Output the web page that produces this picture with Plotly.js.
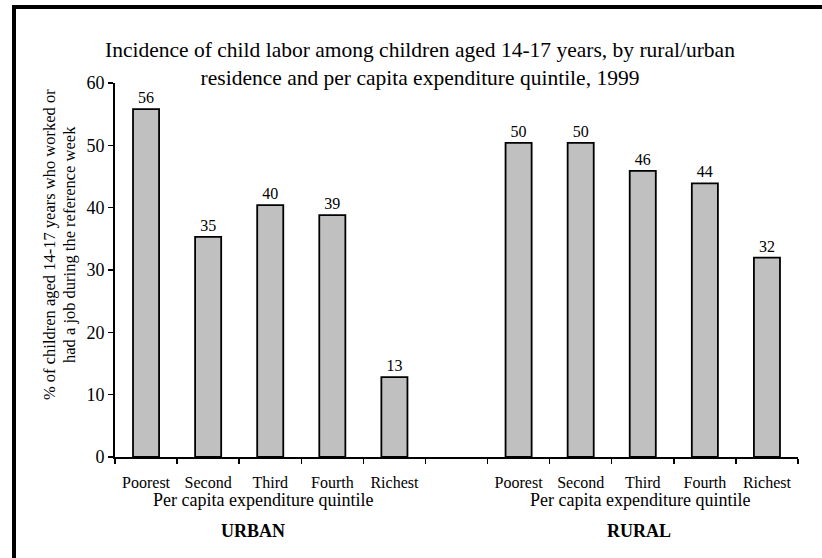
<!DOCTYPE html>
<html>
<head>
<meta charset="utf-8">
<script src="https://cdn.plot.ly/plotly-3.0.1.min.js"></script>
<style>
  html, body { margin: 0; padding: 0; background: #fff; }
  #frame { position: absolute; left: 12px; top: 5px; width: 810px; height: 553px;
           border-top: 4px solid #000; border-left: 4px solid #000; box-sizing: border-box; }
  #chart { position: absolute; left: 0; top: 0; width: 822px; height: 558px; }
</style>
</head>
<body>
<div id="frame"></div>
<div id="chart"></div>
<script>
// ---- data ----
const quintiles = ["Poorest", "Second", "Third", "Fourth", "Richest"];
const urbanValues = [55.8, 35.3, 40.4, 38.8, 12.8];
const ruralValues = [50.4, 50.4, 45.9, 43.9, 32.0];
const groupNames = ["URBAN", "RURAL"];
const groupAxisLabel = "Per capita expenditure quintile";
const titleText = "Incidence of child labor among children aged 14-17 years, by rural/urban<br>residence and per capita expenditure quintile, 1999";
const yTitleLines = ["% of children aged 14-17 years who worked or", "had a job during the reference week"];
const yTicks = [0, 10, 20, 30, 40, 50, 60];

// positions: urban in slots 0-4, empty slot 5, rural in slots 6-10
const urbanX = quintiles.map((q, i) => i);
const ruralX = quintiles.map((q, i) => i + quintiles.length + 1);
const nSlots = quintiles.length * 2 + 1;
const boundaries = Array.from({length: nSlots + 1}, (_, i) => i - 0.5);

const font = "'Liberation Serif', 'Times New Roman', serif";

const barStyle = {
  type: "bar",
  width: 0.42,
  marker: { color: "#c0c0c0", line: { color: "#000", width: 1.8 } },
  texttemplate: "%{y:.0f}",
  textposition: "outside",
  cliponaxis: false,
  textfont: { family: font, size: 16, color: "#000" },
  hoverinfo: "skip",
  showlegend: false
};

const traces = [
  Object.assign({}, barStyle, { x: urbanX, y: urbanValues, name: groupNames[0] }),
  Object.assign({}, barStyle, { x: ruralX, y: ruralValues, name: groupNames[1] })
];

const layout = {
  width: 822, height: 558,
  paper_bgcolor: "rgba(0,0,0,0)",
  plot_bgcolor: "rgba(0,0,0,0)",
  margin: { l: 115, r: 24, t: 83, b: 101 },
  font: { family: font, color: "#000" },
  title: {
    text: titleText,
    font: { family: font, size: 21.5, color: "#000" },
    x: 420 / 822, xref: "container", xanchor: "center",
    y: 1 - 57 / 558, yref: "container", yanchor: "top"
  },
  xaxis: {
    range: [-0.5, nSlots - 0.5],
    tickmode: "array", tickvals: urbanX.concat(ruralX), ticktext: quintiles.concat(quintiles),
    ticks: "", ticklabelstandoff: 10,
    tickfont: { family: font, size: 16, color: "#000" },
    minor: { tickmode: "array", tickvals: boundaries, ticks: "outside", ticklen: 5, tickwidth: 1.5, tickcolor: "#000", showgrid: false },
    showline: true, linecolor: "#000", linewidth: 2,
    showgrid: false, zeroline: false, fixedrange: true
  },
  yaxis: {
    range: [0, 60],
    tickmode: "array", tickvals: yTicks,
    ticks: "outside", ticklen: 5, tickwidth: 1.5, tickcolor: "#000",
    tickfont: { family: font, size: 18, color: "#000" },
    showline: true, linecolor: "#000", linewidth: 2,
    showgrid: false, zeroline: false, fixedrange: true
  },
  annotations: [
    { text: yTitleLines[0], xref: "paper", yref: "paper", x: -(115 - 50) / 683, y: (457 - 245) / 374,
      xanchor: "center", yanchor: "middle", textangle: -90, showarrow: false,
      font: { family: font, size: 16.5, color: "#000" } },
    { text: yTitleLines[1], xref: "paper", yref: "paper", x: -(115 - 70) / 683, y: (457 - 245) / 374,
      xanchor: "center", yanchor: "middle", textangle: -90, showarrow: false,
      font: { family: font, size: 16.5, color: "#000" } },
    { text: groupAxisLabel, xref: "paper", yref: "paper", x: (263 - 115) / 683, y: -(500 - 457) / 374,
      xanchor: "center", yanchor: "middle", showarrow: false,
      font: { family: font, size: 18, color: "#000" } },
    { text: groupAxisLabel, xref: "paper", yref: "paper", x: (640 - 115) / 683, y: -(500 - 457) / 374,
      xanchor: "center", yanchor: "middle", showarrow: false,
      font: { family: font, size: 18, color: "#000" } },
    { text: "<b>" + groupNames[0] + "</b>", xref: "paper", yref: "paper", x: (253 - 115) / 683, y: -(531 - 457) / 374,
      xanchor: "center", yanchor: "middle", showarrow: false,
      font: { family: font, size: 18, color: "#000" } },
    { text: "<b>" + groupNames[1] + "</b>", xref: "paper", yref: "paper", x: (639 - 115) / 683, y: -(531 - 457) / 374,
      xanchor: "center", yanchor: "middle", showarrow: false,
      font: { family: font, size: 18, color: "#000" } }
  ]
};

Plotly.newPlot("chart", traces, layout, { displayModeBar: false, staticPlot: true });
</script>
</body>
</html>
